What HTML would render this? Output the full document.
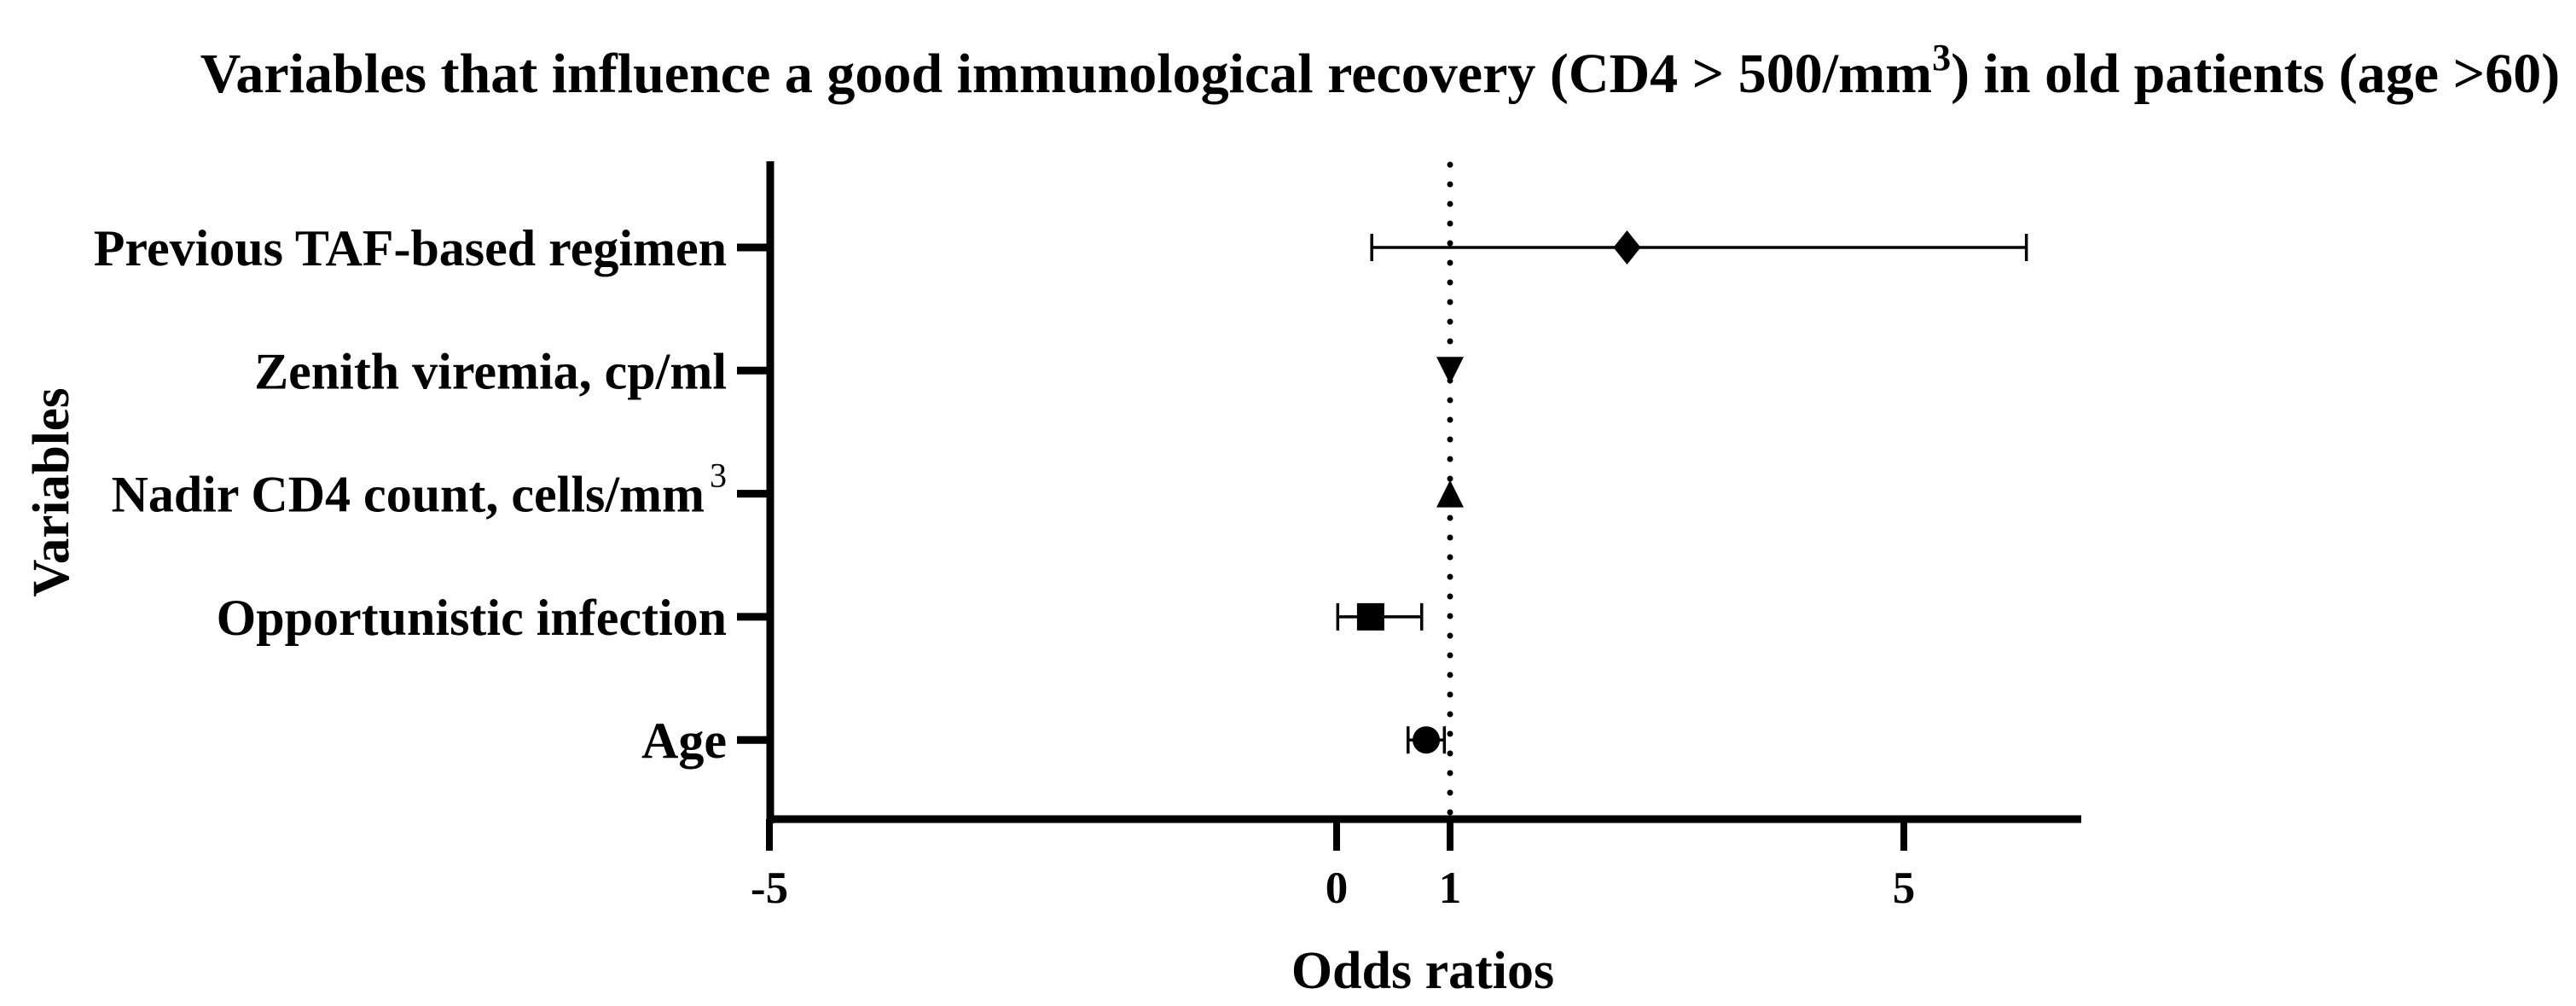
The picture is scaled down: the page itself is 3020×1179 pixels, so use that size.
<!DOCTYPE html>
<html><head><meta charset="utf-8"><style>
html,body{margin:0;padding:0;background:#fff;}
svg{display:block;font-family:"Liberation Serif",serif;font-weight:bold;}
</style></head><body>
<svg id="chart" width="3020" height="1179" viewBox="0 0 3020 1179">
<text x="1618" y="108" font-size="66" text-anchor="middle">Variables that influence a good immunological recovery (CD4 &gt; 500/mm<tspan font-size="44" dy="-26">3</tspan><tspan dy="26">) in old patients (age &gt;60)</tspan></text>
<text transform="translate(80,577) rotate(-90)" font-size="61" text-anchor="middle">Variables</text>
<text x="1668" y="1158" font-size="62" text-anchor="middle">Odds ratios</text>
<g id="plot"></g>
</svg>
<script>
const categories = ["Previous TAF-based regimen","Zenith viremia, cp/ml","Nadir CD4 count, cells/mm","Opportunistic infection","Age"];
const oddsRatio = [2.56, 1.0, 1.0, 0.3, 0.79];
const ciLow = [0.31, 1.0, 1.0, 0.01, 0.63];
const ciHigh = [6.08, 1.0, 1.0, 0.75, 0.95];
const markers = ["diamond","triangle-down","triangle-up","square","circle"];
const xTicks = [-5, 0, 1, 5];
const xTickLabels = ["-5","0","1","5"];

const NS = "http://www.w3.org/2000/svg";
const g = document.getElementById("plot");
const x = v => 1567 + v * 133;
const y = i => 290 + i * 144.3;
function mk(tag, attrs, parent) {
  const e = document.createElementNS(NS, tag);
  for (const k in attrs) e.setAttribute(k, attrs[k]);
  (parent || g).appendChild(e);
  return e;
}
let e = mk("line", {x1: 903, y1: 189, x2: 903, y2: 965, stroke: "#000", "stroke-width": 9});


e = mk("line", {x1: 899, y1: 960, x2: 2440, y2: 960, stroke: "#000", "stroke-width": 9});


e = mk("line", {x1: x(1), y1: 193, x2: x(1), y2: 956, stroke: "#000", "stroke-width": 7, "stroke-dasharray": "0 23", "stroke-linecap": "round"});


xTicks.forEach((v, i) => {
  const t = mk("line", {x1: x(v), y1: 960, x2: x(v), y2: 997, stroke: "#000", "stroke-width": 8});
  
  
  const l = mk("text", {x: x(v), y: 1058, "font-size": 53, "text-anchor": "middle"});
  l.textContent = xTickLabels[i];
  
  
});
categories.forEach((c, i) => {
  const t = mk("line", {x1: 864, y1: y(i), x2: 903, y2: y(i), stroke: "#000", "stroke-width": 9});
  
  
  const l = mk("text", {x: i === 2 ? 826 : 852, y: y(i) + 21, "font-size": 60, "text-anchor": "end"});
  l.textContent = c;
  
  
  if (i === 2) {
    const s = mk("text", {x: 832, y: y(i) - 8, "font-size": 40, "font-weight": "normal"});
    s.textContent = "3";
    
    
  }
});
categories.forEach((c, i) => {
  const cy = y(i);
  if (ciHigh[i] - ciLow[i] > 0.001) {
    const ln = mk("line", {x1: x(ciLow[i]), y1: cy, x2: x(ciHigh[i]), y2: cy, stroke: "#000", "stroke-width": 3.5});
    
    
    [ciLow[i], ciHigh[i]].forEach(v => {
      const cap = mk("line", {x1: x(v), y1: cy - 16, x2: x(v), y2: cy + 16, stroke: "#000", "stroke-width": 3.5});
      
      
    });
  }
  const cx = x(oddsRatio[i]);
  let m;
  if (markers[i] === "diamond") m = mk("polygon", {points: `${cx},${cy-20} ${cx+16},${cy} ${cx},${cy+20} ${cx-16},${cy}`});
  else if (markers[i] === "triangle-down") m = mk("polygon", {points: `${cx-16},${cy-16} ${cx+16},${cy-16} ${cx},${cy+16}`});
  else if (markers[i] === "triangle-up") m = mk("polygon", {points: `${cx-16},${cy+16} ${cx+16},${cy+16} ${cx},${cy-16}`});
  else if (markers[i] === "square") m = mk("rect", {x: cx - 16, y: cy - 16, width: 32, height: 32});
  else m = mk("circle", {cx: cx, cy: cy, r: 16});
  m.setAttribute("fill", "#000");
  
  
});
</script>
</body></html>
